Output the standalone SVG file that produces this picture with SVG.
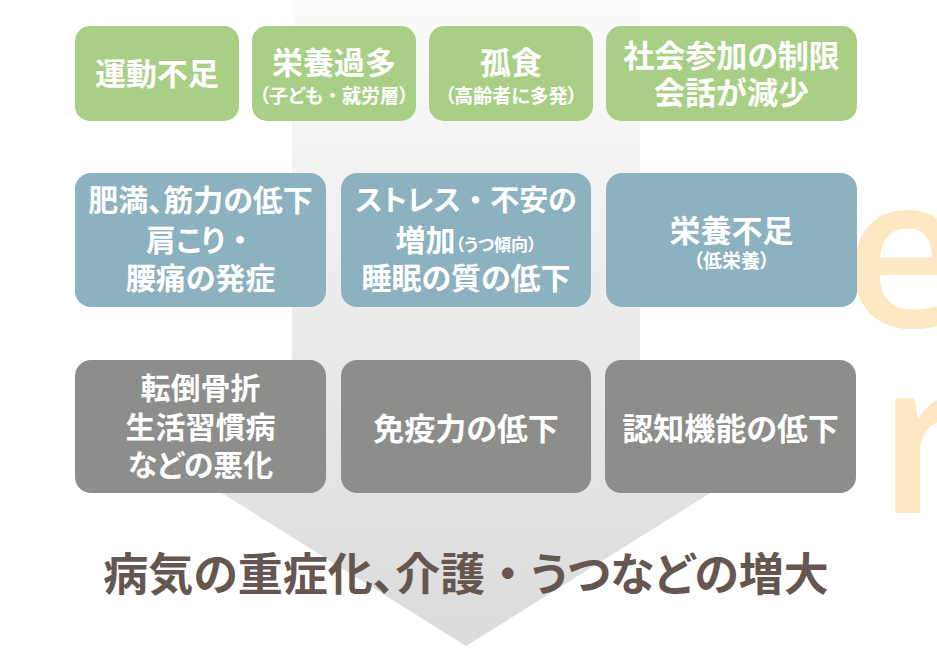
<svg xmlns="http://www.w3.org/2000/svg" width="937" height="661" viewBox="0 0 937 661">
<defs>
<linearGradient id="arrowGrad" x1="0" y1="0" x2="0" y2="661" gradientUnits="userSpaceOnUse">
<stop offset="0" stop-color="#fbfbfb"/>
<stop offset="1" stop-color="#dadada"/>
</linearGradient>
<style>
.g{fill:#a9cf86}
.b{fill:#8cb1bf}
.k{fill:#8d8d8c}
.t{font-family:"Noto Sans CJK JP","Noto Sans CJK SC",sans-serif;font-weight:700;fill:#ffffff;text-anchor:middle;font-feature-settings:"palt"}
.deco{font-family:"Open Sans","Lato",sans-serif;font-weight:600;fill:#fde8c1}
.main{font-family:"Noto Sans CJK JP","Noto Sans CJK SC",sans-serif;font-weight:700;fill:#65574f;text-anchor:middle;font-feature-settings:"palt"}
.nf{font-feature-settings:normal}
</style>
</defs>
<rect width="937" height="661" fill="#ffffff"/>
<g id="decor">
<text class="deco" x="844" y="327" font-size="212">e</text>
<text class="deco" x="878" y="513" font-size="212">r</text>
</g>
<g id="connectors">
<path d="M292,0 H640 V430 H811 L466,646 L121,430 H292 Z" fill="url(#arrowGrad)"/>
</g>
<g id="n1"><rect class="g" x="75" y="26" width="164" height="95" rx="15"/>
<text class="t" x="157" y="85" font-size="31">運動不足</text></g>
<g id="n2"><rect class="g" x="252" y="26" width="164" height="95" rx="15"/>
<text class="t" x="334" y="74" font-size="31">栄養過多</text>
<text class="t" x="334" y="103" font-size="19">（子ども<tspan class="nf">・</tspan>就労層）</text></g>
<g id="n3"><rect class="g" x="429" y="26" width="164" height="95" rx="15"/>
<text class="t" x="511" y="74" font-size="31">孤食</text>
<text class="t" x="511" y="103" font-size="19">（高齢者に多発）</text></g>
<g id="n4"><rect class="g" x="606" y="26" width="251" height="95" rx="15"/>
<text class="t" x="731.5" y="67" font-size="31">社会参加の制限</text>
<text class="t" x="731.5" y="104" font-size="31">会話が減少</text></g>
<g id="n5"><rect class="b" x="75" y="173" width="251" height="134" rx="16"/>
<text class="t" x="200.5" y="211" font-size="30">肥満、筋力の低下</text>
<text class="t" x="200.5" y="251" font-size="30">肩こり<tspan class="nf">・</tspan></text>
<text class="t" x="200.5" y="289" font-size="30">腰痛の発症</text></g>
<g id="n6"><rect class="b" x="341" y="173" width="250" height="134" rx="16"/>
<text class="t" x="466" y="211" font-size="29">ストレス<tspan class="nf">・</tspan>不安の</text>
<text class="t" x="466" y="251" font-size="30">増加<tspan font-size="17">（うつ傾向）</tspan></text>
<text class="t" x="466" y="289" font-size="30">睡眠の質の低下</text></g>
<g id="n7"><rect class="b" x="606" y="173" width="251" height="134" rx="16"/>
<text class="t" x="731.5" y="242" font-size="31">栄養不足</text>
<text class="t" x="731.5" y="268" font-size="19">（低栄養）</text></g>
<g id="n8"><rect class="k" x="75" y="360" width="251" height="133" rx="16"/>
<text class="t" x="200.5" y="399" font-size="30">転倒骨折</text>
<text class="t" x="200.5" y="438" font-size="30">生活習慣病</text>
<text class="t" x="200.5" y="476" font-size="30">などの悪化</text></g>
<g id="n9"><rect class="k" x="341" y="360" width="250" height="133" rx="16"/>
<text class="t" x="466" y="440" font-size="31">免疫力の低下</text></g>
<g id="n10"><rect class="k" x="605" y="360" width="251" height="133" rx="16"/>
<text class="t" x="730.5" y="440" font-size="31">認知機能の低下</text></g>
<g id="result">
<text class="main" x="466" y="591" font-size="45">病気の重症化、介護<tspan class="nf">・</tspan>うつなどの増大</text>
</g>
</svg>
